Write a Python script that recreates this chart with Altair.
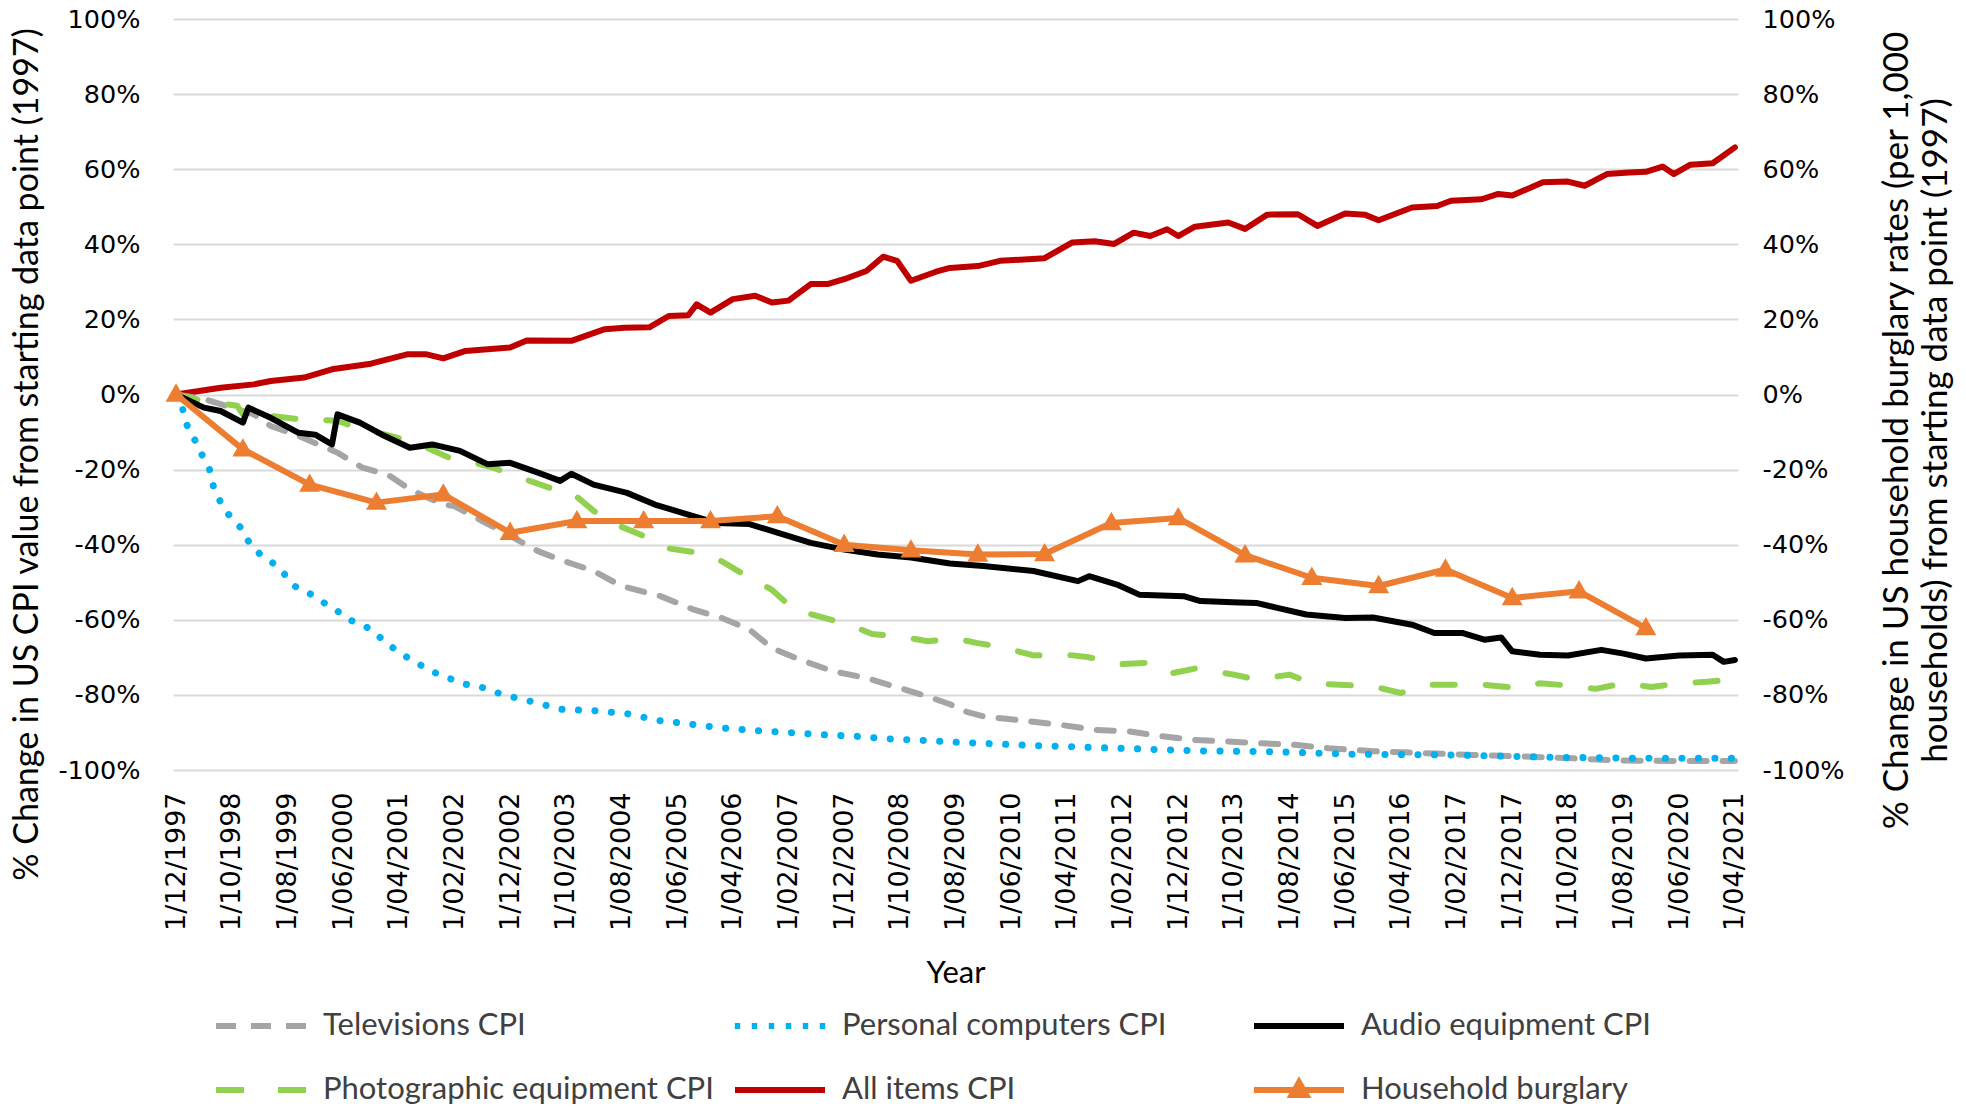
import altair as alt
import pandas as pd

# ---------------- data (values in %, x = months since 1/12/1997) ----------------
X_TICK_MONTHS = [0, 10, 20, 30, 40, 50, 60, 70, 80, 90, 100, 110, 120, 130, 140,
                 150, 160, 170, 180, 190, 200, 210, 220, 230, 240, 250, 260, 270, 280]
X_TICK_LABELS = ["1/12/1997", "1/10/1998", "1/08/1999", "1/06/2000", "1/04/2001",
                 "1/02/2002", "1/12/2002", "1/10/2003", "1/08/2004", "1/06/2005",
                 "1/04/2006", "1/02/2007", "1/12/2007", "1/10/2008", "1/08/2009",
                 "1/06/2010", "1/04/2011", "1/02/2012", "1/12/2012", "1/10/2013",
                 "1/08/2014", "1/06/2015", "1/04/2016", "1/02/2017", "1/12/2017",
                 "1/10/2018", "1/08/2019", "1/06/2020", "1/04/2021"]
Y_TICKS = [-1.0, -0.8, -0.6, -0.4, -0.2, 0.0, 0.2, 0.4, 0.6, 0.8, 1.0]

SERIES = ["Televisions CPI", "Personal computers CPI", "Audio equipment CPI",
          "Photographic equipment CPI", "All items CPI", "Household burglary"]
COLORS = ["#A5A5A5", "#00B0F0", "#000000", "#92D050", "#C00000", "#ED7D31"]
DASHES = [[17, 16], [0.1, 16.4], None, [22, 31], None, None]
WIDTHS = [6, 7, 6, 6, 6, 6]

TV_MONTHS = [0, 5, 14, 17, 22, 29, 33.5, 38, 42, 48, 50, 55, 59, 65, 69, 75, 80, 87, 93, 98,
             103, 107, 112, 118, 124, 130, 135, 139, 142, 145, 153, 159, 165, 171, 177, 183,
             189, 195, 201, 207, 215, 224, 233, 242, 251, 260, 269, 280]
TV_VALUES = [0, -1.2, -5.3, -8.4, -11, -15.5, -19.5, -21.3, -25.3, -29.3, -29.7, -33.7, -36.8,
             -41.7, -44, -47, -51, -53.7, -57.3, -59.5, -62.6, -67.5, -70.6, -73.7, -75.5,
             -78.2, -80.4, -82.5, -84.5, -85.7, -87, -88, -89.3, -89.7, -91, -92, -92.4,
             -92.9, -93.3, -94.2, -95, -95.5, -96, -96.4, -96.9, -97.5, -97.6, -97.6]

PC_MONTHS = [0, 1.2, 1.9, 3.4, 4.6, 6.0, 6.7, 7.9, 9.4, 11.5, 13.0, 15.0, 17.4, 19.5, 21.4,
             24.0, 26.4, 28.9, 31.3, 34.2, 36.4, 38.8, 41.2, 43.6, 46.2, 48.9, 51.7, 54.6,
             57.4, 60.2, 63.1, 66.0, 68.8, 75, 81, 86.5, 92.5, 98, 104, 110, 116, 122, 128,
             134, 140, 154.5, 169, 184, 199, 211, 229, 247, 265, 280]
PC_VALUES = [0, -3.9, -8.0, -12.2, -15.9, -19.9, -24.4, -28.4, -31.9, -35.3, -39.1, -42.4,
             -44.9, -47.9, -51.1, -53.0, -55.3, -57.6, -60.1, -61.9, -64.4, -67.3, -69.7,
             -71.8, -73.9, -75.5, -77.1, -77.8, -79.3, -80.5, -81.5, -82.6, -83.8, -84.2,
             -85, -86.8, -87.8, -88.8, -89.5, -90, -90.6, -91, -91.7, -92.1, -92.6, -93.5,
             -94.2, -94.9, -95.2, -95.8, -96, -96.6, -96.9, -96.9]

AUDIO_MONTHS = [0, 5, 8, 12, 13, 17, 22, 25, 28, 29, 33, 37, 42, 46, 51, 56, 60, 65, 69, 71,
                75, 81, 86, 92, 97, 103, 108, 114, 120, 126, 132, 139, 145, 154, 162, 164,
                169, 173, 181, 184, 191, 194, 198, 203, 210, 215, 222, 226, 231, 235, 238,
                240, 245, 250, 256, 260, 264, 270, 276, 278, 280]
AUDIO_VALUES = [0, -3.5, -4.4, -7.5, -3.5, -6.2, -10.2, -10.7, -13.3, -5.3, -7.5, -10.7,
                -14.2, -13.3, -15, -18.6, -18.2, -20.8, -23, -21.1, -24, -26.2, -29.3, -32,
                -34.2, -34.5, -36.8, -39.5, -41.3, -42.6, -43.4, -45, -45.7, -47, -49.7,
                -48.4, -50.6, -53.3, -53.7, -55, -55.4, -55.5, -56.9, -58.6, -59.5, -59.4,
                -61.3, -63.5, -63.5, -65.3, -64.7, -68.4, -69.3, -69.5, -68, -69, -70.3,
                -69.5, -69.3, -71.2, -70.7]

PHOTO_MONTHS = [0, 5, 11, 12, 13, 17, 21, 29, 32.5, 38.5, 43, 49, 52, 57, 61, 67, 69, 71, 75,
                79, 84, 88, 94, 98, 103, 107, 111, 115, 121, 125, 130, 135, 140, 144, 149,
                154, 160, 164, 170, 175, 179, 183, 190, 194, 200, 204, 209, 215, 220, 225,
                230, 235, 241, 245, 250, 255, 260, 265, 270, 275, 280]
PHOTO_VALUES = [0, -1.8, -3, -5.3, -4, -5.7, -6.4, -7, -8.8, -11, -12.8, -16.8, -17.6, -19.5,
                -21.7, -24.8, -25.7, -26, -31, -34.6, -37.7, -40.9, -42.2, -44.4, -48.8, -52,
                -57.3, -58.9, -61.3, -63.8, -64.4, -65.7, -65, -66.2, -67.5, -69.5, -69.3,
                -70, -71.8, -71.4, -74.2, -73, -74.6, -75.9, -74.6, -76.9, -77.3, -77.7,
                -79.5, -77.3, -77.3, -77.3, -78.2, -76.9, -77.5, -78.4, -76.9, -77.9, -76.9,
                -76.5, -75.8]

ALL_MONTHS = [0, 8, 14, 17, 23, 28, 35, 41.5, 45, 48, 52, 60, 63, 71, 77, 80.5, 85, 88.5, 92,
              93.5, 96, 100, 104, 107, 110, 114, 117, 120, 124, 127, 129.5, 132, 136.5, 139,
              144, 148, 156, 161, 165, 168.5, 172, 175, 178, 180, 183, 189, 192, 196, 201.5,
              205, 210, 213.5, 216, 222, 226.5, 229, 234.5, 237.5, 240, 245.5, 250, 253, 257,
              261, 264, 267, 269, 272, 276, 280]
ALL_VALUES = [0, 1.8, 2.7, 3.6, 4.5, 6.7, 8.2, 10.7, 10.7, 9.6, 11.6, 12.5, 14.4, 14.3, 17.4,
              17.8, 17.9, 20.9, 21.1, 24, 21.8, 25.4, 26.3, 24.5, 25, 29.4, 29.4, 30.7, 32.9,
              36.7, 35.6, 30.3, 32.7, 33.7, 34.2, 35.6, 36.3, 40.5, 40.8, 40.1, 43.1, 42.2,
              44, 42.2, 44.7, 45.8, 44.1, 47.9, 48, 44.9, 48.2, 47.9, 46.4, 49.8, 50.2, 51.6,
              52, 53.4, 53, 56.5, 56.7, 55.6, 58.7, 59.1, 59.3, 60.7, 58.7, 61.2, 61.6, 65.8]

BURGLARY_MONTHS = [0, 12, 24, 36, 48, 60, 72, 84, 96, 108, 120, 132, 144, 156, 168, 180,
                   192, 204, 216, 228, 240, 252, 264]
BURGLARY_VALUES = [0, -14.6, -24, -28.8, -26.6, -36.8, -33.7, -33.7, -33.7, -32.4, -40,
                   -41.5, -42.6, -42.5, -34.2, -32.9, -42.8, -48.8, -51, -46.6, -54.2,
                   -52.4, -62.2]

LEFT_TITLE = "% Change in US CPI value from starting data point (1997)"
RIGHT_TITLE = ["% Change in US household burglary rates (per 1,000",
               "households) from starting data point (1997)"]

# ---------------- legend symbol paths (unit = half symbol width) ----------------
def dot(c):
    return "M%.3f,0L%.3f,0" % (c - 0.06, c + 0.06)


LEGEND_SHAPES = [
    "M-1,0L-0.556,0M-0.222,0L0.222,0M0.556,0L1,0",
    "".join(dot(c) for c in [-0.944, -0.567, -0.189, 0.189, 0.567, 0.944]),
    "M-1,0L1,0",
    "M-1,0L-0.378,0M0.378,0L1,0",
    "M-1,0L1,0",
    "M-1,0L1,0M0,-0.17L0.16,0.11L-0.16,0.11Z",
]

# ---------------- table ----------------
rows = []
for name, ms, vs in [(SERIES[0], TV_MONTHS, TV_VALUES), (SERIES[1], PC_MONTHS, PC_VALUES),
                     (SERIES[2], AUDIO_MONTHS, AUDIO_VALUES),
                     (SERIES[3], PHOTO_MONTHS, PHOTO_VALUES),
                     (SERIES[4], ALL_MONTHS, ALL_VALUES),
                     (SERIES[5], BURGLARY_MONTHS, BURGLARY_VALUES)]:
    for m, v in zip(ms, vs):
        rows.append({"series": name, "month": m, "value": v / 100.0})
df = pd.DataFrame(rows)

# ---------------- encodings ----------------
label_lookup = "[" + ",".join("'" + s + "'" for s in X_TICK_LABELS) + "][round(datum.value/10)]"

x_enc = alt.X("month:Q",
              scale=alt.Scale(domain=[-0.55, 280.55], nice=False, zero=False),
              axis=alt.Axis(values=X_TICK_MONTHS, labelExpr=label_lookup, labelAngle=270,
                            labelAlign="right", labelBaseline="middle",
                            labelFont="DejaVu Sans", labelFontSize=27, labelColor="#000000",
                            labelPadding=22, labelOverlap=False, labelFlush=False,
                            labelBound=False, ticks=False, domain=False, grid=False,
                            title="Year", titleFont="Lato", titleFontSize=31,
                            titleFontWeight="normal", titleColor="#000000",
                            titleY=203, titleBaseline="middle"))

yscale = alt.Scale(domain=[-1, 1], nice=False, zero=False)
y_left = alt.Y("value:Q", scale=yscale,
               axis=alt.Axis(values=Y_TICKS, labelExpr="round(datum.value*100) + '%'",
                             grid=True, gridColor="#D9D9D9", gridWidth=2, domain=False,
                             ticks=False, labelFont="DejaVu Sans", labelFontSize=25.5,
                             labelColor="#000000", labelPadding=33, title=LEFT_TITLE,
                             titleFont="Lato", titleFontSize=34, titleFontWeight="normal",
                             titleColor="#000000", titleAngle=270, titleAlign="center",
                             titleBaseline="middle", titleX=-146, titleY=435))
y_right = alt.Y("value:Q", scale=yscale,
                axis=alt.Axis(orient="right", values=Y_TICKS,
                              labelExpr="round(datum.value*100) + '%'", grid=False,
                              domain=False, ticks=False, labelFont="DejaVu Sans",
                              labelFontSize=25.5, labelColor="#000000", labelPadding=24,
                              title=RIGHT_TITLE, titleFont="Lato", titleFontSize=35,
                              titleFontWeight="normal", titleColor="#000000",
                              titleAngle=270, titleAlign="center", titleBaseline="middle",
                              titleLineHeight=39, titleX=158, titleY=411))

legend = alt.Legend(
    title=None, orient="none", legendX=40, legendY=958, columns=3, direction="horizontal",
    gridAlign="all", columnPadding=8, rowPadding=-26, padding=0, labelFont="Lato",
    labelFontSize=31, labelColor="#404040", labelOffset=14, labelLimit=2000,
    symbolSize=8100, symbolStrokeWidth=6, symbolOpacity=1)

color_enc = alt.Color("series:N", scale=alt.Scale(domain=SERIES, range=COLORS), legend=legend)
shape_enc = alt.Shape("series:N", scale=alt.Scale(domain=SERIES, range=LEGEND_SHAPES),
                      legend=legend)

base = alt.Chart(df)


def series_line(name, y):
    i = SERIES.index(name)
    props = dict(strokeWidth=WIDTHS[i], strokeCap="round", strokeJoin="round")
    if DASHES[i] is not None:
        props["strokeDash"] = DASHES[i]
    return base.transform_filter(alt.datum.series == name).mark_line(**props).encode(
        x=x_enc, y=y, color=color_enc)


# first layer is a solid line so that the shared legend takes no dash pattern
draw_order = [SERIES[4], SERIES[0], SERIES[1], SERIES[3], SERIES[2]]
cpi = alt.layer(*[series_line(n, y_left) for n in draw_order])

burg_line = series_line(SERIES[5], y_right)
burg_pts = base.transform_filter(alt.datum.series == SERIES[5]).mark_point(
    filled=True, size=17200, opacity=1, strokeWidth=0
).encode(x=x_enc, y=y_right, color=color_enc, shape=shape_enc)
burglary = alt.layer(burg_line, burg_pts)

chart = alt.layer(cpi, burglary).resolve_scale(y="independent").properties(
    width=1565, height=751,
    padding={"left": 165, "top": 11, "right": 220, "bottom": 336},
    autosize=alt.AutoSizeParams(type="none"),
    background="#FFFFFF",
).configure_view(stroke=None)

chart.save("out.html", embed_options={"renderer": "svg", "actions": False})
